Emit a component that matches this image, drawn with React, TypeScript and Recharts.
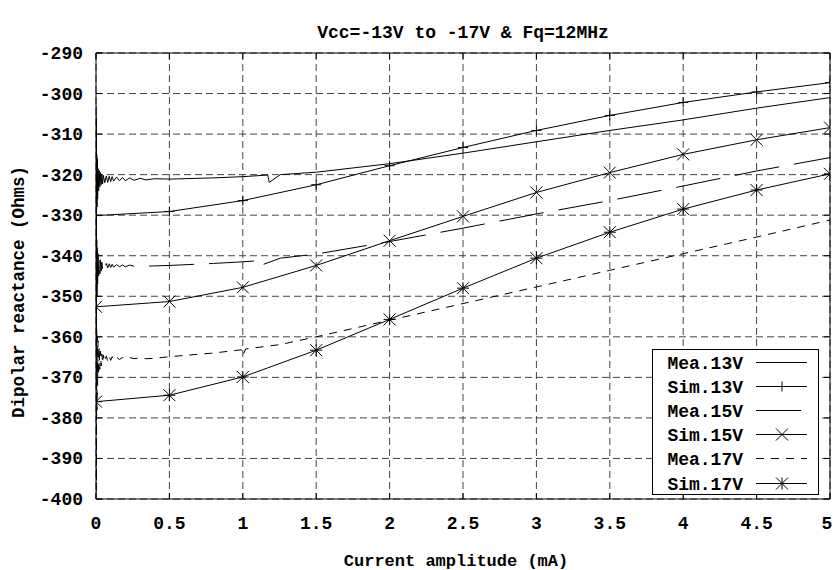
import React from "react";
import { LineChart, Line, XAxis, YAxis, CartesianGrid, ReferenceLine } from "recharts";

// axis ticks
const xTicks = [0, 0.5, 1, 1.5, 2, 2.5, 3, 3.5, 4, 4.5, 5];
const yTicks = [-400, -390, -380, -370, -360, -350, -340, -330, -320, -310, -300, -290];

// simulated curves (one point per 0.5 mA)
const simX = [0, 0.5, 1, 1.5, 2, 2.5, 3, 3.5, 4, 4.5, 5];
const sim13V = [-330.1, -329.1, -326.4, -322.5, -317.8, -313.3, -309.1, -305.4, -302.2, -299.6, -297.3];
const sim15V = [-352.6, -351.3, -347.8, -342.4, -336.3, -330.3, -324.4, -319.5, -315.0, -311.4, -308.4];
const sim17V = [-376.0, -374.4, -369.9, -363.3, -355.7, -348.0, -340.6, -334.2, -328.5, -323.8, -319.8];

const mea13X = [0, 0.001, 0.002, 0.003, 0.005, 0.007, 0.009, 0.011, 0.014, 0.018, 0.022, 0.026, 0.03, 0.035, 0.04, 0.045, 0.05, 0.06, 0.07, 0.08, 0.09, 0.1, 0.11, 0.12, 0.14, 0.16, 0.18, 0.2, 0.23, 0.26, 0.3, 0.34, 0.4, 0.5, 0.8, 1.0, 1.17, 1.18, 1.256, 1.5, 2, 2.5, 3, 3.5, 4, 4.5, 5];
const mea13V = [-303, -342, -306, -338, -315, -328, -316, -326, -318.5, -324, -319, -323, -319.5, -322.5, -320, -322.3, -320.2, -322, -320.3, -321.9, -320.4, -321.7, -320.5, -321.6, -320.6, -321.5, -320.7, -321.5, -320.8, -321.4, -320.9, -321.3, -321.0, -321.1, -320.8, -320.5, -320.1, -321.9, -320.0, -319.4, -317.3, -314.7, -311.9, -309.1, -306.5, -303.6, -301.0];

const mea15X = [0, 0.001, 0.002, 0.003, 0.005, 0.007, 0.009, 0.011, 0.014, 0.018, 0.022, 0.026, 0.03, 0.035, 0.04, 0.045, 0.05, 0.06, 0.07, 0.08, 0.09, 0.1, 0.11, 0.12, 0.14, 0.16, 0.18, 0.2, 0.23, 0.26, 0.3, 0.34, 0.4, 0.5, 0.8, 1.0, 1.08, 1.09, 1.256, 1.5, 2, 2.5, 3, 3.5, 4, 4.5, 5];
const mea15V = [-328, -364, -331, -360, -336, -350, -338, -347, -339.5, -345, -340.5, -344.5, -341, -343.8, -341.6, -343.3, -341.8, -343.1, -341.9, -343, -342, -342.9, -342.1, -342.8, -342.2, -342.7, -342.3, -342.7, -342.3, -342.6, -342.4, -342.6, -342.5, -342.4, -341.9, -341.5, -341.3, -342.8, -340.6, -339.6, -336.5, -333.2, -329.7, -326.4, -322.8, -319.1, -315.8];

const mea17X = [0, 0.001, 0.002, 0.003, 0.005, 0.007, 0.009, 0.011, 0.014, 0.018, 0.022, 0.026, 0.03, 0.035, 0.04, 0.045, 0.05, 0.06, 0.07, 0.08, 0.09, 0.1, 0.11, 0.12, 0.14, 0.16, 0.18, 0.2, 0.23, 0.26, 0.3, 0.34, 0.4, 0.5, 0.8, 0.99, 1.0, 1.02, 1.256, 1.5, 2, 2.5, 3, 3.5, 4, 4.5, 5];
const mea17V = [-352, -399, -355, -396, -358, -378, -360, -372, -361, -369.5, -362.5, -368, -363.5, -367.2, -364.2, -366.5, -364.5, -366.2, -364.7, -366, -364.8, -365.8, -364.9, -365.7, -365, -365.6, -365.1, -365.5, -365.1, -365.4, -365.2, -365.4, -365.3, -364.9, -364.0, -363.2, -364.6, -363.0, -361.9, -360.0, -355.9, -351.8, -347.7, -343.6, -339.5, -335.4, -331.2];

const zip = (xs: number[], ys: number[]) => xs.map((x, i) => ({ x, y: ys[i] }));

const W = 833;
const H = 570;
const PL = 96, PR = 830, PT = 53, PB = 499;
const FONT = "'Liberation Mono', 'DejaVu Sans Mono', monospace";
const txt = { fontFamily: FONT, fontWeight: 700, fontSize: 18, fill: "#000" } as const;

const plusDot = (p: any) => (
  <path key={`p${p.index}`} d={`M${p.cx - 5},${p.cy}h10M${p.cx},${p.cy - 5}v10`} stroke="#000" fill="none" />
);
const crossDot = (p: any) => (
  <path key={`c${p.index}`} d={`M${p.cx - 6},${p.cy - 6}l12,12M${p.cx - 6},${p.cy + 6}l12,-12`} stroke="#000" fill="none" />
);
const starDot = (p: any) => (
  <path
    key={`s${p.index}`}
    d={`M${p.cx - 6},${p.cy - 6}l12,12M${p.cx - 6},${p.cy + 6}l12,-12M${p.cx},${p.cy - 6}v12M${p.cx - 6},${p.cy}h12`}
    stroke="#000"
    fill="none"
  />
);

function YTick(props: any) {
  const { y, payload } = props;
  return (
    <g>
      <line x1={PL} x2={PL + 6} y1={y} y2={y} stroke="#000" />
      <line x1={PR - 6} x2={PR} y1={y} y2={y} stroke="#000" />
      <text x={PL - 13} y={y + 6} textAnchor="end" style={txt}>{payload.value}</text>
    </g>
  );
}

function XTick(props: any) {
  const { x, payload } = props;
  // last label sits on the right edge of the picture
  const tx = payload.value === 5 ? x - 3 : x;
  return (
    <g>
      <line x1={x} x2={x} y1={PB} y2={PB - 6} stroke="#000" />
      <line x1={x} x2={x} y1={PT} y2={PT + 6} stroke="#000" />
      <text x={tx} y={529} textAnchor="middle" style={txt}>{payload.value}</text>
    </g>
  );
}

const legendRows = [
  { name: "Mea.13V", dash: undefined, mark: null, len: 51 },
  { name: "Sim.13V", dash: undefined, mark: "plus", len: 51 },
  { name: "Mea.15V", dash: undefined, mark: null, len: 45 },
  { name: "Sim.15V", dash: undefined, mark: "cross", len: 51 },
  { name: "Mea.17V", dash: "8 7", mark: null, len: 51 },
  { name: "Sim.17V", dash: undefined, mark: "star", len: 51 },
];

function Overlay() {
  const bx = 652, by = 349, bw = 166, bh = 145;
  return (
    <svg width={W} height={H} style={{ position: "absolute", left: 0, top: 0, pointerEvents: "none" }}>
      <text x={463} y={38} textAnchor="middle" style={txt}>Vcc=-13V to -17V &amp; Fq=12MHz</text>
      <text x={456} y={566} textAnchor="middle" style={{ ...txt, fontSize: 17 }}>Current amplitude (mA)</text>
      <text transform="translate(24,292) rotate(-90)" textAnchor="middle" style={{ ...txt, fontSize: 17.5 }}>Dipolar reactance (Ohms)</text>
      <rect x={bx + 0.5} y={by + 0.5} width={bw} height={bh} fill="#fff" stroke="#000" />
      {legendRows.map((r, i) => {
        const cy = Math.round(by + 13 + i * 24.1) + 0.5;
        const mx = 782;
        return (
          <g key={r.name}>
            <text x={743} y={cy + 6} textAnchor="end" style={txt}>{r.name}</text>
            <line x1={756} x2={756 + r.len} y1={cy} y2={cy} stroke="#000" strokeDasharray={r.dash} />
            {r.mark === "plus" && plusDot({ cx: mx, cy, index: i })}
            {r.mark === "cross" && crossDot({ cx: mx, cy, index: i })}
            {r.mark === "star" && starDot({ cx: mx, cy, index: i })}
          </g>
        );
      })}
    </svg>
  );
}

export default function App() {
  return (
    <div style={{ position: "absolute", left: 0, top: 0, width: W, height: H, background: "#fff" }}>
      <LineChart width={W} height={H} margin={{ top: PT, right: W - PR, bottom: 0, left: 0 }}>
        <CartesianGrid stroke="#444" strokeDasharray="7 4" />
        <XAxis
          type="number"
          dataKey="x"
          domain={[0, 5]}
          ticks={xTicks}
          height={H - PB}
          axisLine={{ stroke: "#000" }}
          tickLine={false}
          tick={<XTick />}
          interval={0}
          allowDataOverflow
        />
        <YAxis
          type="number"
          dataKey="y"
          domain={[-400, -290]}
          ticks={yTicks}
          width={PL}
          axisLine={{ stroke: "#000" }}
          tickLine={false}
          tick={<YTick />}
          interval={0}
          allowDataOverflow
        />
        <ReferenceLine y={-290} stroke="#000" />
        <ReferenceLine x={5} stroke="#000" />
        <Line data={zip(mea13X, mea13V)} dataKey="y" name="Mea.13V" stroke="#000" strokeWidth={1} dot={false} isAnimationActive={false} />
        <Line data={zip(simX, sim13V)} dataKey="y" name="Sim.13V" stroke="#000" strokeWidth={1} dot={plusDot} isAnimationActive={false} />
        <Line data={zip(mea15X, mea15V)} dataKey="y" name="Mea.15V" stroke="#000" strokeWidth={1} strokeDasharray="45 15" dot={false} isAnimationActive={false} />
        <Line data={zip(simX, sim15V)} dataKey="y" name="Sim.15V" stroke="#000" strokeWidth={1} dot={crossDot} isAnimationActive={false} />
        <Line data={zip(mea17X, mea17V)} dataKey="y" name="Mea.17V" stroke="#000" strokeWidth={1} strokeDasharray="8 7" dot={false} isAnimationActive={false} />
        <Line data={zip(simX, sim17V)} dataKey="y" name="Sim.17V" stroke="#000" strokeWidth={1} dot={starDot} isAnimationActive={false} />
      </LineChart>
      <Overlay />
    </div>
  );
}
